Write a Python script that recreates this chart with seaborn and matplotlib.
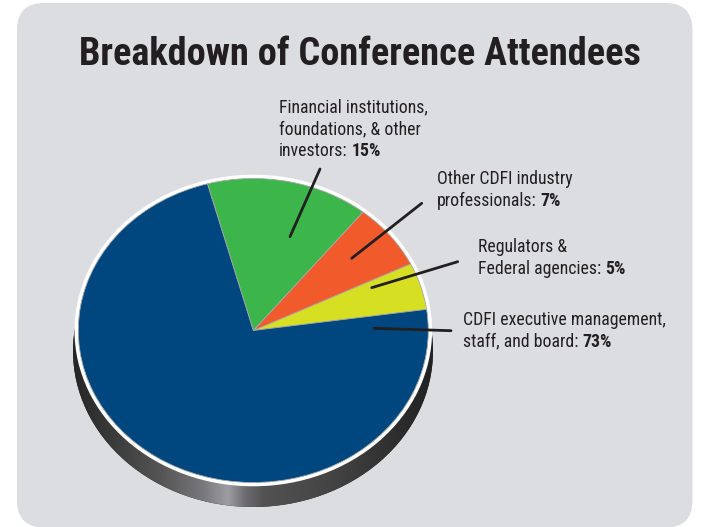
import numpy as np
import matplotlib
matplotlib.use("Agg")
import matplotlib.pyplot as plt
import seaborn as sns
from matplotlib.patches import FancyBboxPatch, Ellipse
from matplotlib.colors import LinearSegmentedColormap

# ---- data ----
title = "Breakdown of Conference Attendees"
categories = ["CDFI executive management,\nstaff, and board",
              "Financial institutions,\nfoundations, & other\ninvestors",
              "Other CDFI industry\nprofessionals",
              "Regulators &\nFederal agencies"]
values = [73, 15, 7, 5]
colors = ["#00467f", "#3cb54a", "#f15a2b", "#d7df23"]

sns.set_theme(style="white")
plt.rcParams["font.family"] = ["Roboto Condensed", "DejaVu Sans"]
TXT = "#231f20"

W, H = 702, 527
fig = plt.figure(figsize=(W / 100, H / 100), dpi=100)
fig.patch.set_facecolor("white")

bg = fig.add_axes([0, 0, 1, 1])
bg.set_xlim(0, W)
bg.set_ylim(H, 0)
bg.axis("off")
bg.add_patch(FancyBboxPatch((17, 3), 675.5, 524.5,
                            boxstyle="round,pad=0,rounding_size=27",
                            fc="#dcdde0", ec="none"))
bg.text(360, 65, title, ha="center", va="baseline", fontsize=27.5,
        fontweight="bold", color=TXT)

# ---- pie (elliptical via axes scaling) ----
cx, cy, rx, ry = 253.3, 330.5, 175.0, 152.0
pa = fig.add_axes([0, 0, 1, 1])
pa.patch.set_alpha(0)

order = [3, 2, 1, 0]
wedges, _ = pa.pie([values[i] for i in order], colors=[colors[i] for i in order],
                   startangle=8, counterclock=True, radius=1,
                   wedgeprops=dict(edgecolor="#a8a8a8", linewidth=0.6, zorder=3))
pa.set_aspect("auto")
pa.set_xlim((0 - cx) / rx, (W - cx) / rx)
pa.set_ylim((cy - H) / ry, cy / ry)
pa.axis("off")

def dx(px):
    return (px - cx) / rx

def dy(py):
    return (cy - py) / ry

# 3D base with horizontal gradient
scx, scy, srx, sry = 253.0, 351.0, 180.0, 156.0
shadow = Ellipse((dx(scx), dy(scy)), 2 * srx / rx, 2 * sry / ry,
                 fc="#2a2a2a", ec="none", zorder=1)
pa.add_patch(shadow)
stops = [(0.00, "#262626"), (0.24, "#545454"), (0.36, "#78787c"),
         (0.43, "#9c9ca2"), (0.48, "#6c6c70"), (0.53, "#525252"),
         (0.72, "#444444"), (1.00, "#222222")]
cmap = LinearSegmentedColormap.from_list("base", stops)
grad = np.linspace(0, 1, 400).reshape(1, -1)
im = pa.imshow(grad, cmap=cmap, aspect="auto", zorder=1.5,
               extent=(dx(scx - srx), dx(scx + srx), dy(scy + sry), dy(scy - sry)))
im.set_clip_path(shadow)

# white rim
pa.add_patch(Ellipse((0, 0), 2 * (rx + 3.8) / rx, 2 * (ry + 3.8) / ry,
                     fc="white", ec="none", zorder=2))

# ---- labels with leader lines ----
pcts = [f"{v}%" for v in values]
label_pos = [(462.7, 325.0), (279.3, 112.7), (436.7, 184.0), (478.3, 251.7)]
lead_out = [(451, 330.7), (320, 169), (421.7, 203.3), (457.7, 261.7)]
lead_in = [(374, 328.3), (290, 236.7), (351.7, 258.3), (371.7, 287.7)]
FS = 12.8
LS = 21.8

fig.canvas.draw()
renderer = fig.canvas.get_renderer()
for cat, pct, (lx, ly), po, pi in zip(categories, pcts, label_pos, lead_out, lead_in):
    lines = cat.split("\n")
    for k, line in enumerate(lines):
        yb = ly + k * LS
        if k == len(lines) - 1:
            t = bg.text(lx, yb, line + ":", ha="left", va="baseline",
                        fontsize=FS, color=TXT)
            bb = t.get_window_extent(renderer)
            xe = bg.transData.inverted().transform((bb.x1, bb.y0))[0]
            gap = 0.23 * FS * 100 / 72
            bg.text(xe + gap, yb, pct, ha="left", va="baseline",
                    fontsize=FS, fontweight="bold", color=TXT)
        else:
            bg.text(lx, yb, line, ha="left", va="baseline", fontsize=FS, color=TXT)
    pa.annotate("", xy=(dx(pi[0]), dy(pi[1])), xytext=po, textcoords=bg.transData,
                arrowprops=dict(arrowstyle="-", lw=2.0, color=TXT,
                                shrinkA=0, shrinkB=0), zorder=5)

fig.savefig("out.png", dpi=100, facecolor="white")
